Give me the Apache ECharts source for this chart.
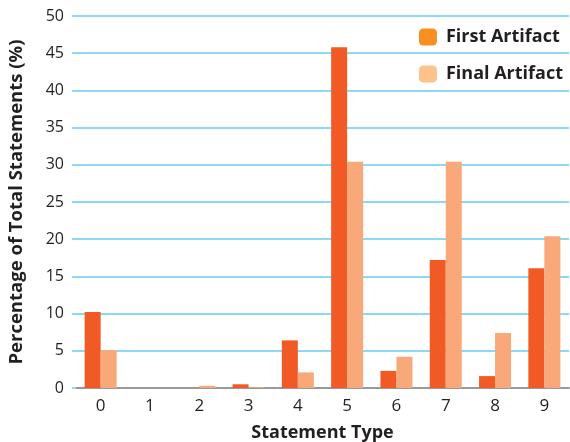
<!DOCTYPE html>
<html><head><meta charset="utf-8">
<script src="https://cdn.jsdelivr.net/npm/echarts@6/dist/echarts.min.js"></script>
<style>html,body{margin:0;padding:0;background:#fff}#c{width:570px;height:442px}</style>
</head><body><div id="c"></div>
<script>
const categories = ['0','1','2','3','4','5','6','7','8','9'];
const firstArtifact = [10.2, 0, 0, 0.5, 6.4, 45.8, 2.3, 17.2, 1.6, 16.1];
const finalArtifact = [5.1, 0, 0.3, 0.1, 2.1, 30.4, 4.2, 30.4, 7.4, 20.4];
const yTicks = [0, 5, 10, 15, 20, 25, 30, 35, 40, 45, 50];
const font = '"Open Sans", "Noto Sans", sans-serif';
const chart = echarts.init(document.getElementById('c'));
chart.setOption({
  animation: false,
  grid: {left: 76, right: 1, top: 16, bottom: 54, containLabel: false, outerBoundsMode: 'none'},
  legend: {
    orient: 'vertical', right: 2, top: 23, itemWidth: 18, itemHeight: 17, itemGap: 19,
    icon: 'roundRect',
    textStyle: {fontFamily: font, fontWeight: 'bold', fontSize: 18, color: '#231f20', padding: [0, 0, 0, 4]},
    data: [
      {name: 'First Artifact', itemStyle: {color: '#f7901e'}},
      {name: 'Final Artifact', itemStyle: {color: '#fdc38a'}}
    ]
  },
  xAxis: {
    type: 'category', data: categories,
    name: 'Statement Type', nameLocation: 'middle', nameGap: 36,
    nameTextStyle: {fontFamily: font, fontWeight: 'bold', fontSize: 18, color: '#231f20'},
    axisLine: {lineStyle: {color: '#999999', width: 2}},
    axisTick: {show: false},
    axisLabel: {fontFamily: font, fontSize: 17, color: '#231f20', margin: 10}
  },
  yAxis: {
    type: 'value', min: yTicks[0], max: yTicks[yTicks.length - 1], interval: 5,
    name: 'Percentage of Total Statements (%)', nameLocation: 'middle', nameGap: 50,
    nameTextStyle: {fontFamily: font, fontWeight: 'bold', fontSize: 18.5, color: '#231f20'},
    axisLine: {show: false},
    axisTick: {show: true, length: 4, lineStyle: {color: '#8dd8f6', width: 2}},
    axisLabel: {fontFamily: font, fontSize: 16, color: '#231f20', margin: 12},
    splitLine: {lineStyle: {color: '#8dd8f6', width: 2}}
  },
  series: [
    {name: 'First Artifact', type: 'bar', data: firstArtifact, barWidth: 16, barGap: '0%',
     itemStyle: {color: '#f15a24'}},
    {name: 'Final Artifact', type: 'bar', data: finalArtifact, barWidth: 16, barGap: '0%',
     itemStyle: {color: '#f9a87a'}}
  ]
});
</script></body></html>
